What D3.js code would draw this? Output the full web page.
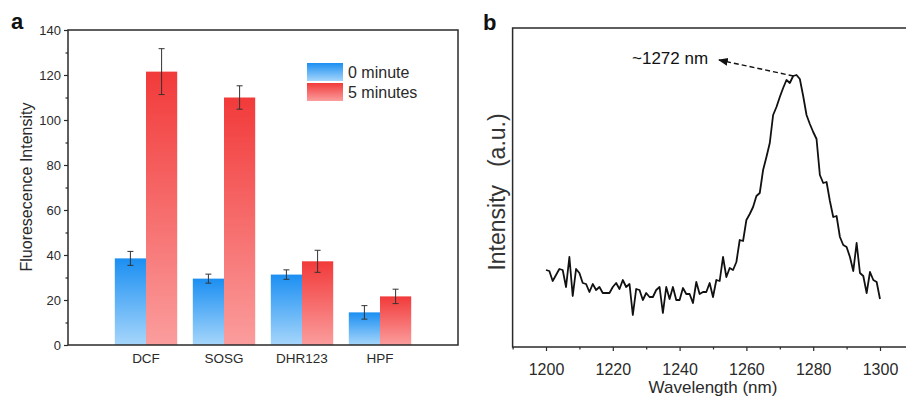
<!DOCTYPE html>
<html>
<head>
<meta charset="utf-8">
<script src="https://cdn.jsdelivr.net/npm/d3@7"></script>
<style>
  html, body { margin: 0; padding: 0; background: #fff; }
  svg { display: block; font-family: "Liberation Sans", Arial, sans-serif; }
</style>
</head>
<body>
<svg id="chart" width="906" height="398"></svg>
<script>
// ---------- Panel a data ----------
const categories = ["DCF", "SOSG", "DHR123", "HPF"];
const minute0 = [38.5, 29.5, 31.3, 14.5];
const minute0Err = [3.1, 2.0, 2.1, 3.0];
const minute5 = [121.5, 110.0, 37.2, 21.6];
const minute5Err = [10.2, 5.2, 4.9, 3.2];
const seriesNames = ["0 minute", "5 minutes"];
const yTicksA = [0, 20, 40, 60, 80, 100, 120, 140];
const yMinorTicksA = [10, 30, 50, 70, 90, 110, 130];

// ---------- Panel b data ----------
const wavelengths = [1200,1201,1202,1203,1204,1205,1206,1207,1208,1209,1210,1211,1212,1213,1214,1215,1216,1217,1218,1219,
  1220,1221,1222,1223,1224,1225,1226,1227,1228,1229,1230,1231,1232,1233,1234,1235,1236,1237,1238,1239,
  1240,1241,1242,1243,1244,1245,1246,1247,1248,1249,1250,1251,1252,1253,1254,1255,1256,1257,1258,1259,
  1260,1261,1262,1263,1264,1265,1266,1267,1268,1269,1270,1271,1272,1273,1274,1275,1276,1277,1278,1279,
  1280,1281,1282,1283,1284,1285,1286,1287,1288,1289,1290,1291,1292,1293,1294,1295,1296,1297,1298,1299,1300];
const intensity = [77,76,66,72,78,77,60,90,51,78,74,64,63,55,63,57,60,54,54,54,
  60,64,58,67,60,63,32,58,57,47,54,50,50,57,60,34,60,48,60,47,
  47,59,53,53,44,65,53,55,55,64,50,67,66,90,70,79,77,85,107,106,
  127,133,140,151,154,177,190,204,232,240,250,259,267,264,271,272,268,251,232,223,
  215,208,172,164,165,146,130,131,110,102,100,90,76,104,74,71,54,75,67,65,48];
const xTicksB = [1200, 1220, 1240, 1260, 1280, 1300];
const xMinorTicksB = [1190, 1210, 1230, 1250, 1270, 1290, 1310];
const peakLabel = "~1272 nm";

const svg = d3.select("#chart");
const ink = "#2a2a2a";

// ---------- gradients ----------
const defs = svg.append("defs");
function grad(id, top, bottom) {
  const g = defs.append("linearGradient").attr("id", id)
    .attr("x1", 0).attr("y1", 0).attr("x2", 0).attr("y2", 1);
  g.append("stop").attr("offset", "0%").attr("stop-color", top);
  g.append("stop").attr("offset", "100%").attr("stop-color", bottom);
}
grad("gBlue", "#1b8ff2", "#a6d6fb");
grad("gRed", "#f23a3a", "#fb9d9d");
const fills = ["url(#gBlue)", "url(#gRed)"];

// ================= Panel a =================
const A = { left: 68, right: 458, top: 30, bottom: 345 };
const xA = d3.scaleLinear().domain([0, 5]).range([A.left, A.right]);
const yA = d3.scaleLinear().domain([0, 140]).range([A.bottom, A.top]);
const barW = 0.4;

const gA = svg.append("g");

const series = [
  { vals: minute0, errs: minute0Err, off: -barW },
  { vals: minute5, errs: minute5Err, off: 0 }
];
series.forEach((s, si) => {
  const grp = gA.append("g");
  grp.selectAll("rect").data(categories).join("rect")
    .attr("x", (d, i) => xA(i + 1 + s.off))
    .attr("width", xA(barW) - xA(0))
    .attr("y", (d, i) => yA(s.vals[i]))
    .attr("height", (d, i) => yA(0) - yA(s.vals[i]))
    .attr("fill", fills[si]);
  const eb = grp.selectAll("g.err").data(categories).join("g").attr("class", "err");
  const cx = (i) => xA(i + 1 + s.off + barW / 2);
  eb.append("line")
    .attr("x1", (d, i) => cx(i)).attr("x2", (d, i) => cx(i))
    .attr("y1", (d, i) => yA(s.vals[i] + s.errs[i]))
    .attr("y2", (d, i) => yA(s.vals[i] - s.errs[i]))
    .attr("stroke", "#333").attr("stroke-width", 1);
  [1, -1].forEach(sign => {
    eb.append("line")
      .attr("x1", (d, i) => cx(i) - 3).attr("x2", (d, i) => cx(i) + 3)
      .attr("y1", (d, i) => yA(s.vals[i] + sign * s.errs[i]))
      .attr("y2", (d, i) => yA(s.vals[i] + sign * s.errs[i]))
      .attr("stroke", "#333").attr("stroke-width", 1);
  });
});

gA.append("rect")
  .attr("x", A.left).attr("y", A.top)
  .attr("width", A.right - A.left).attr("height", A.bottom - A.top)
  .attr("fill", "none").attr("stroke", ink).attr("stroke-width", 1.5);

const yAxisA = d3.axisLeft(yA).tickValues(yTicksA).tickSize(4).tickPadding(3);
const yAx = gA.append("g").attr("transform", `translate(${A.left},0)`).call(yAxisA);
yAx.select(".domain").remove();
yAx.selectAll("line").attr("stroke", ink).attr("stroke-width", 1.2);
yAx.selectAll("text").attr("font-size", 13).attr("fill", ink)
  .attr("font-family", "Liberation Sans, Arial, sans-serif");
const yMinA = d3.axisLeft(yA).tickValues(yMinorTicksA).tickSize(2.5).tickFormat("");
const yMin = gA.append("g").attr("transform", `translate(${A.left},0)`).call(yMinA);
yMin.select(".domain").remove();
yMin.selectAll("line").attr("stroke", ink).attr("stroke-width", 1.2);

gA.selectAll("text.cat").data(categories).join("text").attr("class", "cat")
  .attr("x", (d, i) => xA(i + 1))
  .attr("y", 363)
  .attr("text-anchor", "middle")
  .attr("font-size", 13.5).attr("fill", ink)
  .text(d => d);

gA.append("text")
  .attr("transform", `translate(32,187) rotate(-90)`)
  .attr("text-anchor", "middle")
  .attr("font-size", 16).attr("fill", ink)
  .text("Fluoresecence Intensity");

const leg = gA.append("g");
seriesNames.forEach((n, i) => {
  leg.append("rect").attr("x", 307).attr("y", 63 + i * 20)
    .attr("width", 36).attr("height", 18).attr("fill", fills[i]);
  leg.append("text").attr("x", 348).attr("y", 77.5 + i * 20)
    .attr("font-size", 16).attr("fill", ink).text(n);
});

svg.append("text").attr("x", 11).attr("y", 29)
  .attr("font-size", 22).attr("font-weight", "bold").attr("fill", "#111").text("a");

// ================= Panel b =================
const B = { left: 512.6, right: 913.4, top: 28, bottom: 347 };
const xB = d3.scaleLinear().domain([1190, 1310]).range([B.left, B.right]);
const yB = d3.scaleLinear().domain([0, 319]).range([B.bottom, B.top]);
const gB = svg.append("g");

gB.append("rect")
  .attr("x", B.left).attr("y", B.top)
  .attr("width", B.right - B.left).attr("height", B.bottom - B.top)
  .attr("fill", "none").attr("stroke", ink).attr("stroke-width", 1.5);

const xAxisB = d3.axisBottom(xB).tickValues(xTicksB).tickSize(4).tickPadding(13)
  .tickFormat(d3.format("d"));
const xAx = gB.append("g").attr("transform", `translate(0,${B.bottom})`).call(xAxisB);
xAx.select(".domain").remove();
xAx.selectAll("line").attr("stroke", ink).attr("stroke-width", 1.2);
xAx.selectAll("text").attr("font-size", 16).attr("fill", ink)
  .attr("font-family", "Liberation Sans, Arial, sans-serif");
const xMinB = d3.axisBottom(xB).tickValues(xMinorTicksB).tickSize(2.5).tickFormat("");
const xMin = gB.append("g").attr("transform", `translate(0,${B.bottom})`).call(xMinB);
xMin.select(".domain").remove();
xMin.selectAll("line").attr("stroke", ink).attr("stroke-width", 1.2);

const line = d3.line().x((d, i) => xB(wavelengths[i])).y(d => yB(d));
gB.append("path").datum(intensity)
  .attr("d", line)
  .attr("fill", "none").attr("stroke", "#111").attr("stroke-width", 1.8)
  .attr("stroke-linejoin", "round");

gB.append("text").attr("x", 713).attr("y", 393)
  .attr("text-anchor", "middle").attr("font-size", 17).attr("fill", ink)
  .text("Wavelength (nm)");
gB.append("text")
  .attr("transform", `translate(505,192) rotate(-90)`)
  .attr("text-anchor", "middle").attr("font-size", 23).attr("fill", "#333")
  .style("white-space", "pre")
  .text("Intensity\u2002 (a.u.)");

const peakIdx = intensity.indexOf(d3.max(intensity));
defs.append("marker").attr("id", "arr").attr("viewBox", "0 0 10 10")
  .attr("refX", 9).attr("refY", 5).attr("markerWidth", 7).attr("markerHeight", 7)
  .attr("orient", "auto-start-reverse")
  .append("path").attr("d", "M0,1 L10,5 L0,9 z").attr("fill", "#111");
gB.append("line")
  .attr("x1", xB(wavelengths[peakIdx]) - 3).attr("y1", yB(intensity[peakIdx]) + 1)
  .attr("x2", 719).attr("y2", 60)
  .attr("stroke", "#111").attr("stroke-width", 1.4)
  .attr("stroke-dasharray", "5,3")
  .attr("marker-end", "url(#arr)");
gB.append("text").attr("x", 632).attr("y", 64)
  .attr("font-size", 17).attr("fill", "#111").text(peakLabel);

svg.append("text").attr("x", 483).attr("y", 30)
  .attr("font-size", 22).attr("font-weight", "bold").attr("fill", "#111").text("b");
</script>
</body>
</html>
